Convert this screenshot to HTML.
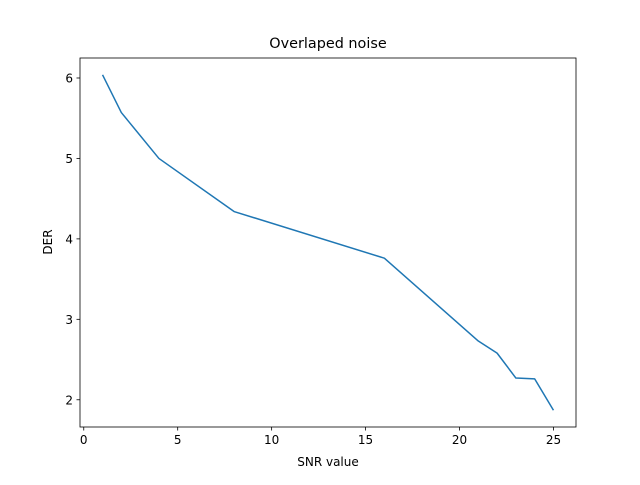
<!DOCTYPE html>
<html><head><meta charset="utf-8"><style>
body{margin:0;background:#fff;}
svg text{font-family:"DejaVu Sans","Liberation Sans",sans-serif;}
</style></head><body>
<svg id="chart" width="640" height="480">
<rect width="640" height="480" fill="#fff"/>
<text x="328" y="48" font-size="14.4" text-anchor="middle">Overlaped noise</text>
<text x="328" y="466" font-size="12" text-anchor="middle">SNR value</text>
<text x="0" y="0" font-size="12" text-anchor="middle" transform="translate(52,242) rotate(-90)">DER</text>
<g id="ticks"></g>
<path id="line" fill="none" stroke="#1f77b4" stroke-width="1.5" stroke-linejoin="round"/>
<rect x="80" y="58" width="496" height="369" fill="none" stroke="#000" stroke-width="0.8"/>
</svg>
<script>
const snr = [1, 2, 4, 8, 16, 21, 22, 23, 24, 25];
const der = [6.04, 5.57, 5.0, 4.34, 3.76, 2.73, 2.58, 2.27, 2.26, 1.87];
const xTicks = [0, 5, 10, 15, 20, 25];
const yTicks = [2, 3, 4, 5, 6];
const L=80,R=576,T=58,B=427;
const xmin=-0.2,xmax=26.2,ymin=1.6615,ymax=6.2485;
const sx=v=>L+(v-xmin)/(xmax-xmin)*(R-L);
const sy=v=>B-(v-ymin)/(ymax-ymin)*(B-T);
const NS="http://www.w3.org/2000/svg";
const g=document.getElementById('ticks');
xTicks.forEach(t=>{
  const l=document.createElementNS(NS,'line');
  l.setAttribute('x1',sx(t));l.setAttribute('x2',sx(t));l.setAttribute('y1',B);l.setAttribute('y2',B+3.5);
  l.setAttribute('stroke','#000');l.setAttribute('stroke-width','0.8');
  
  
  g.appendChild(l);
  const tx=document.createElementNS(NS,'text');
  tx.setAttribute('x',sx(t));tx.setAttribute('y',B+17);tx.setAttribute('font-size','12');tx.setAttribute('text-anchor','middle');
  tx.textContent=t;
  
  
  g.appendChild(tx);
});
yTicks.forEach(t=>{
  const l=document.createElementNS(NS,'line');
  l.setAttribute('x1',L-3.5);l.setAttribute('x2',L);l.setAttribute('y1',sy(t));l.setAttribute('y2',sy(t));
  l.setAttribute('stroke','#000');l.setAttribute('stroke-width','0.8');
  
  
  g.appendChild(l);
  const tx=document.createElementNS(NS,'text');
  tx.setAttribute('x',L-7);tx.setAttribute('y',sy(t)+4.5);tx.setAttribute('font-size','12');tx.setAttribute('text-anchor','end');
  tx.textContent=t;
  
  
  g.appendChild(tx);
});
document.getElementById('line').setAttribute('d',snr.map((v,i)=>(i?'L':'M')+sx(v)+','+sy(der[i])).join(' '));
</script>
</body></html>
